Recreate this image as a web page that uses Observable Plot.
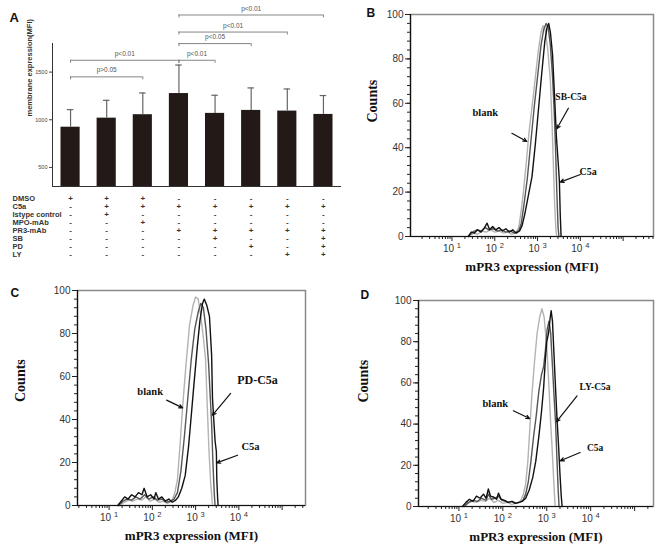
<!DOCTYPE html>
<html><head><meta charset="utf-8">
<script src="https://cdn.jsdelivr.net/npm/d3@7"></script>
<script src="https://cdn.jsdelivr.net/npm/@observablehq/plot@0.6"></script>
<style>
body{margin:0;background:#fff}
#fig{position:relative;width:661px;height:552px;overflow:hidden;background:#fff}
#fig svg{position:absolute}
</style>
</head><body><div id="fig"></div>
<script>
// ---------- Panel A data ----------
const barMeans = [922, 1017, 1053, 1275, 1067, 1098, 1091, 1056];
const barUpper = [1106, 1204, 1281, 1574, 1257, 1334, 1323, 1254];
const yTicksA = [500, 1000, 1500];
const yDomainA = [300, 1800];
const bracketFrom = [0, 0, 3, 3, 3, 3];
const bracketTo = [2, 3, 4, 5, 6, 7];
const bracketLevel = [1450, 1624, 1624, 1799, 1920, 2099];
const bracketText = ["p>0.05", "p<0.01", "p<0.01", "p<0.05", "p<0.01", "p<0.01"];
const rowNames = ["DMSO", "C5a", "Istype control", "MPO-mAb", "PR3-mAb", "SB", "PD", "LY"];
const rowSigns = ["+++-----", "-+++++++", "-+------", "--+-----", "---+++++", "----+--+", "-----+-+", "------++"];

// ---------- Histogram axes ----------
const countTicks = [0, 20, 40, 60, 80, 100];
const xTickValues = [10, 100, 1000, 10000];
const xTickLabels = ["10^1", "10^2", "10^3", "10^4"];
const xTitle = "mPR3 expression (MFI)";
const yTitle = "Counts";

// ---------- Panel B (log10 MFI, counts) ----------
const bLogDomain = [0.03, 5.71];
const bBlank = [[1.40,0],[1.50,1.5],[1.60,1],[1.70,2.5],[1.80,2],[1.90,3],[2.00,2],[2.10,2.5],[2.20,1.5],[2.30,2],[2.40,1],[2.50,2],[2.56,4],[2.62,12],[2.68,22],[2.74,34],[2.80,47],[2.88,60],[2.95,72],[3.02,84],[3.08,92],[3.13,95],[3.18,93],[3.24,84],[3.30,70],[3.34,50],[3.37,32],[3.40,14],[3.43,3],[3.45,0]];
const bSB = [[1.38,0],[1.48,2],[1.58,3],[1.68,2.5],[1.78,4],[1.86,3],[1.96,3.5],[2.06,2.5],[2.16,3],[2.26,2],[2.36,2.5],[2.46,1.5],[2.56,2.5],[2.62,6],[2.68,14],[2.76,26],[2.84,42],[2.92,58],[3.00,72],[3.08,86],[3.14,93],[3.20,96],[3.25,94],[3.30,86],[3.35,72],[3.39,56],[3.42,40],[3.45,20],[3.48,4],[3.50,0]];
const bC5a = [[1.38,0],[1.45,2],[1.52,1.5],[1.60,3],[1.68,2],[1.76,4],[1.82,6],[1.88,3],[1.95,4.5],[2.02,3],[2.10,4],[2.18,2.5],[2.26,3.5],[2.34,2],[2.42,3],[2.50,1.5],[2.58,2.5],[2.64,5],[2.70,10],[2.78,18],[2.87,27],[2.95,42],[3.02,57],[3.10,74],[3.17,88],[3.22,94],[3.26,96],[3.30,92],[3.35,82],[3.40,62],[3.44,45],[3.48,34],[3.51,25],[3.53,10],[3.55,0]];
const bNotes = ["blank", "SB-C5a", "C5a"];
const bNoteAt = [[1.78,56],[3.78,63],[4.18,29]];
const bArrowFrom = [[2.40,46.5],[3.72,57.8],[4.00,27.9]];
const bArrowTo = [[2.75,42.8],[3.45,48.5],[3.53,24.5]];

// ---------- Panel C ----------
const cLogDomain = [0.27, 5.54];
const cBlank = [[1.25,0],[1.35,1.5],[1.45,2.5],[1.55,2],[1.65,3],[1.75,2.5],[1.85,4],[1.95,2],[2.05,3],[2.15,1.5],[2.25,2],[2.35,1],[2.45,2],[2.52,6],[2.58,12],[2.64,28],[2.70,46],[2.78,66],[2.86,84],[2.94,93],[3.00,97],[3.06,96],[3.12,88],[3.18,78],[3.23,68],[3.27,46],[3.31,25],[3.35,10],[3.39,0]];
const cPD = [[1.22,0],[1.32,2],[1.42,3],[1.52,2.5],[1.62,4],[1.72,3],[1.82,5],[1.92,3],[2.02,4],[2.12,2.5],[2.22,3],[2.32,1.5],[2.42,2],[2.50,3],[2.58,6],[2.66,16],[2.74,32],[2.82,50],[2.90,68],[2.98,82],[3.06,90],[3.12,94],[3.18,92],[3.24,82],[3.30,66],[3.34,50],[3.37,38],[3.40,20],[3.43,6],[3.45,0]];
const cC5a = [[1.20,0],[1.28,2],[1.36,4],[1.44,3],[1.52,5],[1.60,4],[1.68,6],[1.76,5],[1.81,8],[1.88,4],[1.96,5],[2.04,3],[2.08,6],[2.14,3],[2.22,4],[2.30,2],[2.38,3],[2.46,1.5],[2.54,2.5],[2.60,4],[2.68,8],[2.76,14],[2.84,28],[2.90,42],[2.96,56],[3.04,74],[3.10,86],[3.16,94],[3.20,96],[3.26,93],[3.32,88],[3.37,70],[3.39,50],[3.41,43],[3.45,30],[3.48,25],[3.49,12],[3.51,3],[3.52,0]];
const cNotes = ["blank", "PD-C5a", "C5a"];
const cNoteAt = [[1.95,52.8],[4.43,58.3],[4.27,27.3]];
const cArrowFrom = [[2.33,49],[3.81,52.1],[3.97,23.4]];
const cArrowTo = [[2.70,45.4],[3.39,42],[3.49,19.8]];

// ---------- Panel D ----------
const dLogDomain = [0.08, 5.43];
const dBlank = [[1.10,0],[1.20,1.5],[1.30,2.5],[1.40,2],[1.50,3],[1.60,2.5],[1.70,4],[1.80,2],[1.90,3],[2.00,1.5],[2.10,2],[2.20,1],[2.30,1.5],[2.40,2.5],[2.47,6],[2.52,11],[2.57,22],[2.62,40],[2.66,54],[2.72,70],[2.78,84],[2.84,92],[2.89,96],[2.94,92],[3.00,78],[3.05,58],[3.09,40],[3.12,29],[3.16,12],[3.19,0]];
const dLY = [[1.12,0],[1.22,2],[1.32,3],[1.42,2.5],[1.52,4],[1.62,3],[1.67,6],[1.74,3.5],[1.82,4],[1.90,5],[1.98,3],[2.06,2.5],[2.14,2],[2.22,2.5],[2.30,1.5],[2.38,2],[2.46,3],[2.52,6],[2.58,12],[2.64,22],[2.70,34],[2.76,44],[2.82,56],[2.88,64],[2.93,68],[2.97,76],[3.01,86],[3.05,90],[3.09,84],[3.13,68],[3.17,52],[3.20,41],[3.23,24],[3.26,8],[3.28,0]];
const dC5a = [[1.08,0],[1.16,2],[1.24,3.5],[1.32,2.5],[1.40,5],[1.48,4],[1.56,6],[1.62,4],[1.67,8.5],[1.72,5],[1.80,4.5],[1.86,3.5],[1.90,6.5],[1.96,3.5],[2.04,3],[2.12,2],[2.20,2.5],[2.28,1.5],[2.36,2],[2.44,2.5],[2.52,4],[2.60,8],[2.68,14],[2.75,22],[2.82,34],[2.88,46],[2.93,58],[2.97,72],[3.00,80],[3.04,84],[3.08,92],[3.10,95],[3.13,90],[3.16,76],[3.19,62],[3.23,44],[3.27,29],[3.30,16],[3.33,5],[3.35,0]];
const dNotes = ["blank", "LY-C5a", "C5a"];
const dNoteAt = [[1.83,50],[4.10,58.1],[4.10,28.6]];
const dArrowFrom = [[2.24,46.5],[3.69,53.7],[3.76,26.2]];
const dArrowTo = [[2.61,42.7],[3.22,41.1],[3.31,22.2]];

// ---------- drawing ----------
const fig = document.getElementById("fig");
function put(el, left, top) { el.style.left = left + "px"; el.style.top = top + "px"; fig.appendChild(el); }
const sans = "Liberation Sans, Arial, Helvetica, sans-serif";
const serif = "Liberation Serif, Times New Roman, serif";

const idx = d3.range(barMeans.length);
const brackets = bracketFrom.map((f, k) => ({f, t: bracketTo[k], y: bracketLevel[k], s: bracketText[k]}));
const xDomA = [-0.5, barMeans.length - 0.5];

const plotA = Plot.plot({
  width: 341, height: 190, marginLeft: 52, marginRight: 0, marginTop: 43, marginBottom: 4,
  x: {domain: xDomA, axis: null},
  y: {domain: yDomainA, axis: null},
  style: {fontFamily: sans, background: "transparent", overflow: "visible"},
  marks: [
    Plot.rect(idx, {x1: i => i - 0.265, x2: i => i + 0.265, y1: () => yDomainA[0], y2: i => barMeans[i], fill: "#231916"}),
    Plot.ruleX(idx, {x: i => i, y1: i => barMeans[i], y2: i => barUpper[i], stroke: "#666", strokeWidth: 1.2}),
    Plot.ruleY(idx, {y: i => barUpper[i], x1: i => i - 0.09, x2: i => i + 0.09, stroke: "#666", strokeWidth: 1.2}),
    Plot.ruleY([yDomainA[0]], {stroke: "#333"}),
    Plot.ruleX([xDomA[0]], {stroke: "#333"}),
    Plot.ruleY(yTicksA, {y: d => d, x1: () => xDomA[0], x2: () => xDomA[0], insetLeft: -3, stroke: "#444"}),
    Plot.axisY({ticks: yTicksA, tickSize: 0, tickPadding: 5, fontSize: 5.5, fill: "#444", label: null, tickFormat: d => String(d)}),
    Plot.ruleY(brackets, {y: "y", x1: "f", x2: "t", stroke: "#777", strokeWidth: 0.9}),
    Plot.ruleX(brackets, {x: "f", y1: "y", y2: "y", insetBottom: -3, stroke: "#777", strokeWidth: 0.9}),
    Plot.ruleX(brackets, {x: "t", y1: "y", y2: "y", insetBottom: -3, stroke: "#777", strokeWidth: 0.9}),
    Plot.text(brackets, {x: d => (d.f + d.t) / 2, y: "y", text: "s", dy: -6.5, fontSize: 6.5, fill: "#555"}),
    Plot.text(["membrane expression(MFI)"], {frameAnchor: "left", rotate: -90, dx: -23, dy: 1.5, fontSize: 7.5, fontWeight: "bold", fill: "#333"}),
    Plot.text(["A"], {frameAnchor: "top-left", dx: -43, dy: -31, fontSize: 13, fontWeight: "bold", fill: "#111"})
  ]
});
put(plotA, 0, 0);

const cells = rowNames.flatMap((r, j) => idx.map(i => ({r, i, s: rowSigns[j][i]})));
const plotT = Plot.plot({
  width: 341, height: 70, marginLeft: 52, marginRight: 0, marginTop: 7, marginBottom: 5,
  x: {domain: xDomA, axis: null},
  y: {type: "point", domain: rowNames, padding: 0, axis: null},
  style: {fontFamily: sans, background: "transparent", overflow: "visible"},
  marks: [
    Plot.text(rowNames, {y: d => d, frameAnchor: "left", textAnchor: "start", dx: -40, fontSize: 7.5, fontWeight: "bold", fill: "#333"}),
    Plot.text(cells, {x: "i", y: "r", text: "s", fontSize: 8, fontWeight: "bold", fill: "#333"})
  ]
});
put(plotT, 0, 190);

function histogram(o) {
  const [lo, hi] = o.logDomain;
  const x0 = 10 ** lo;
  const inDom = v => Math.log10(v) >= lo - 1e-9 && Math.log10(v) <= hi + 1e-9;
  const decades = d3.range(Math.floor(lo), Math.ceil(hi) + 1);
  const major = decades.map(k => 10 ** k).filter(inDom);
  const minor = decades.flatMap(k => d3.range(2, 10).map(m => m * 10 ** k)).filter(inDom);
  const countMinor = d3.range(0, 101, 4);
  const ann = o.notes.map((s, k) => ({s, tx: o.noteAt[k][0], ty: o.noteAt[k][1],
    x1: o.arrowFrom[k][0], y1: o.arrowFrom[k][1], x2: o.arrowTo[k][0], y2: o.arrowTo[k][1], fs: o.noteSize[k]}));
  const pts = arr => arr.map(([lx, c]) => ({x: 10 ** lx, c}));
  const svg = Plot.plot({
    width: o.width, height: o.height,
    marginLeft: o.ml, marginRight: o.mr, marginTop: o.mt, marginBottom: o.mb,
    x: {type: "log", domain: [x0, 10 ** hi], label: null},
    y: {domain: [0, 100], label: null},
    style: {fontFamily: sans, background: "transparent", overflow: "visible"},
    marks: [
      Plot.frame({stroke: "#8a8a8a", strokeWidth: 1.5}),
      Plot.ruleY(countMinor, {y: d => d, x1: () => x0, x2: () => x0, insetLeft: -3, stroke: "#222"}),
      Plot.ruleY(countTicks, {y: d => d, x1: () => x0, x2: () => x0, insetLeft: -5, stroke: "#222"}),
      Plot.ruleX(minor, {x: d => d, y1: () => 0, y2: () => 0, insetBottom: -3, stroke: "#222"}),
      Plot.ruleX(major, {x: d => d, y1: () => 0, y2: () => 0, insetBottom: -5, stroke: "#222"}),
      Plot.axisY({ticks: countTicks, tickSize: 0, tickPadding: 7, fontSize: 10, fill: "#333", label: null}),
      Plot.axisX({ticks: xTickValues, tickSize: 0, tickPadding: 8, fontSize: 10, fill: "#333", label: null,
        tickFormat: v => xTickLabels[xTickValues.indexOf(v)]}),
      ...o.curves.map(c => Plot.line(pts(c.data), {x: "x", y: "c", stroke: c.color, strokeWidth: 1.4})),
      Plot.ruleY([0], {stroke: "#111", strokeWidth: 1.2}),
      Plot.ruleX([x0], {stroke: "#111", strokeWidth: 1.2}),
      Plot.arrow(ann, {x1: d => 10 ** d.x1, y1: "y1", x2: d => 10 ** d.x2, y2: "y2", stroke: "#111", strokeWidth: 1.2, headLength: 5, headAngle: 50}),
      Plot.text(ann, {x: d => 10 ** d.tx, y: "ty", text: "s", fontSize: "fs", fontFamily: serif, fontWeight: "bold", fill: "#111"}),
      Plot.text([xTitle], {frameAnchor: "bottom", dy: o.titleDy, fontSize: 13, fontFamily: serif, fontWeight: "bold", fill: "#111"}),
      Plot.text([yTitle], {frameAnchor: "left", rotate: -90, dx: o.countsDx, dy: o.countsDy, fontSize: 14, fontFamily: serif, fontWeight: "bold", fill: "#111"}),
      Plot.text([o.letter], {frameAnchor: "top-left", dx: o.letterDx, dy: o.letterDy, fontSize: 12, fontFamily: sans, fontWeight: "bold", fill: "#111"})
    ]
  });
  // render "10^k" tick labels with a real superscript
  svg.querySelectorAll("text").forEach(t => {
    const m = /^10\^(\d)$/.exec(t.textContent);
    if (!m) return;
    t.textContent = "";
    const ns = "http://www.w3.org/2000/svg";
    const a = document.createElementNS(ns, "tspan"); a.textContent = "10 ";
    const b = document.createElementNS(ns, "tspan"); b.textContent = m[1];
    b.setAttribute("dy", "-4"); b.setAttribute("font-size", "7.5");
    t.append(a, b);
  });
  return svg;
}

put(histogram({
  logDomain: bLogDomain, width: 321, height: 280, ml: 70, mr: 8, mt: 14, mb: 44,
  curves: [{data: bBlank, color: "#b3b3b3"}, {data: bSB, color: "#555"}, {data: bC5a, color: "#111"}],
  notes: bNotes, noteAt: bNoteAt, arrowFrom: bArrowFrom, arrowTo: bArrowTo, noteSize: [10.5, 9.5, 10],
  titleDy: 34, countsDx: -38, countsDy: -3, letter: "B", letterDx: -44, letterDy: -6.5
}), 340, 0);

put(histogram({
  logDomain: cLogDomain, width: 330, height: 272, ml: 77, mr: 25, mt: 10, mb: 47,
  curves: [{data: cBlank, color: "#b3b3b3"}, {data: cPD, color: "#555"}, {data: cC5a, color: "#111"}],
  notes: cNotes, noteAt: cNoteAt, arrowFrom: cArrowFrom, arrowTo: cArrowTo, noteSize: [10.5, 12, 10.5],
  titleDy: 34, countsDx: -57, countsDy: 4, letter: "C", letterDx: -67, letterDy: -2.5
}), 0, 280);

put(histogram({
  logDomain: dLogDomain, width: 331, height: 272, ml: 88, mr: 8, mt: 20, mb: 46,
  curves: [{data: dBlank, color: "#b3b3b3"}, {data: dLY, color: "#555"}, {data: dC5a, color: "#111"}],
  notes: dNotes, noteAt: dNoteAt, arrowFrom: dArrowFrom, arrowTo: dArrowTo, noteSize: [10.5, 9.5, 9.5],
  titleDy: 34, countsDx: -55, countsDy: -1, letter: "D", letterDx: -58, letterDy: -10
}), 330, 280);
</script>
</body></html>
